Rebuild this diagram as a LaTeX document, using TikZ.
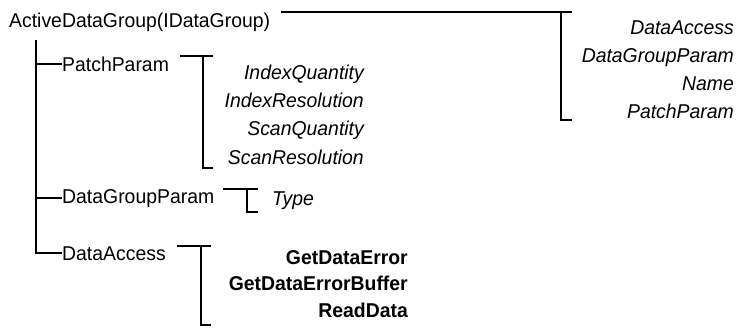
\documentclass[tikz,border=0pt]{standalone}
\usepackage{fontspec}
\setmainfont[FakeStretch=0.97]{Liberation Sans}
\usetikzlibrary{calc}
\begin{document}
\begin{tikzpicture}[x=1pt,y=-1pt,
  txt/.style={inner sep=0pt, font=\fontsize{20}{22}\selectfont},
  lbl/.style={txt, anchor=base west},
  itm/.style={txt, anchor=base east, font=\fontsize{20}{22}\selectfont\itshape},
  itmw/.style={txt, anchor=base west, font=\fontsize{20}{22}\selectfont\itshape},
  bitm/.style={txt, anchor=base east, font=\fontsize{20}{22}\selectfont\bfseries},
  ln/.style={line width=2.1pt}]
\useasboundingbox (0,0) rectangle (738,327);
% parent labels
\node[lbl] (root) at (9,27) {ActiveDataGroup(IDataGroup)};
\node[lbl] (pp) at (62,71) {PatchParam};
\node[lbl] (dgp) at (62,203) {DataGroupParam};
\node[lbl] (da) at (62,260) {DataAccess};
% root members
\node[itm] (r1) at (734,34) {DataAccess};
\node[itm] (r2) at (734,62) {DataGroupParam};
\node[itm] (r3) at (734,90) {Name};
\node[itm] (r4) at (734,118) {PatchParam};
% PatchParam members
\node[itm] (p1) at (364,79) {IndexQuantity};
\node[itm] (p2) at (364,107.3) {IndexResolution};
\node[itm] (p3) at (364,135.6) {ScanQuantity};
\node[itm] (p4) at (364,164) {ScanResolution};
% DataGroupParam member
\node[itmw] (t1) at (272,205) {Type};
% DataAccess members
\node[bitm] (m1) at (408,264) {GetDataError};
\node[bitm] (m2) at (408,290.5) {GetDataErrorBuffer};
\node[bitm] (m3) at (408,317) {ReadData};
% tree trunk
\coordinate (trunk) at (36,40);
\draw[ln] (trunk) -- (trunk |- da.west) -- (da.west);
\draw[ln] (trunk |- pp.west) -- (pp.west);
\draw[ln] (trunk |- dgp.west) -- (dgp.west);
% brackets
\coordinate (aV) at (561,0); \coordinate (aE) at (572,0); \coordinate (aB) at (0,120);
\path (root.north east) ++(11,0) coordinate (aS);
\draw[ln] (aS) -- (aS -| aE) (aS -| aV) -- (aV |- aB) -- (aE |- aB);
\coordinate (bV) at (203,0); \coordinate (bE) at (213,0); \coordinate (bB) at (0,168);
\path (pp.north east) ++(11,0) coordinate (bS);
\draw[ln] (bS) -- (bS -| bE) (bS -| bV) -- (bV |- bB) -- (bE |- bB);
\coordinate (cV) at (247,0); \coordinate (cE) at (258,0); \coordinate (cB) at (0,212);
\path (dgp.north east) ++(9,0) coordinate (cS);
\draw[ln] (cS) -- (cS -| cE) (cS -| cV) -- (cV |- cB) -- (cE |- cB);
\coordinate (dV) at (201,0); \coordinate (dE) at (211,0); \coordinate (dB) at (0,325);
\path (da.north east) ++(11,0) coordinate (dS);
\draw[ln] (dS) -- (dS -| dE) (dS -| dV) -- (dV |- dB) -- (dE |- dB);
\end{tikzpicture}
\end{document}
